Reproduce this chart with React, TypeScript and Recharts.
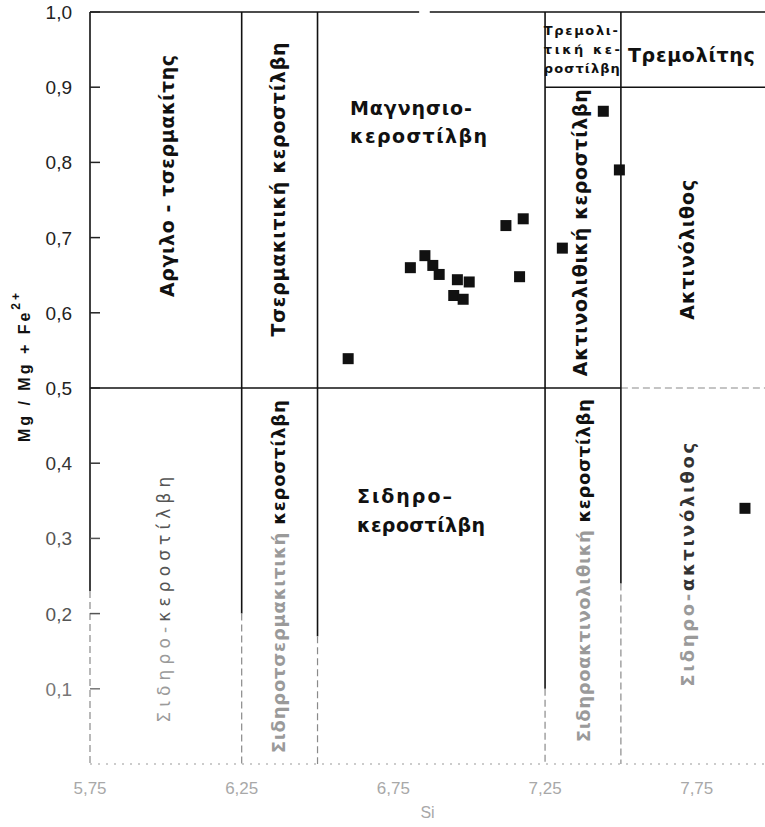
import { ScatterChart, Scatter, XAxis, YAxis, ReferenceLine, ReferenceDot } from "recharts";

// Si (apfu) and Mg/(Mg+Fe2+) of the analysed amphiboles
const siValues = [6.601, 6.806, 6.854, 6.880, 6.901, 6.961, 7.0, 6.949, 6.98, 7.121, 7.178, 7.166, 7.307, 7.442, 7.495, 7.909];
const mgValues = [0.539, 0.66, 0.676, 0.663, 0.651, 0.644, 0.641, 0.623, 0.618, 0.716, 0.725, 0.648, 0.686, 0.868, 0.79, 0.34];

const xTicks = [5.75, 6.25, 6.75, 7.25, 7.75];
const yTicks = [0.1, 0.2, 0.3, 0.4, 0.5, 0.6, 0.7, 0.8, 0.9, 1.0];

const SI_MIN = 5.75;
const SI_MAX = 7.975;

const points = siValues.map((si, i) => ({ si, mg: mgValues[i] }));

// field boundaries: [x1, y1, x2, y2, dashed]
const boundaries: [number, number, number, number, boolean][] = [
  [SI_MIN, 1, 6.835, 1, false],
  [6.87, 1, SI_MAX, 1, false],
  [SI_MIN, 0.5, 7.5, 0.5, false],
  [7.5, 0.5, SI_MAX, 0.5, true],
  [7.25, 0.9, SI_MAX, 0.9, false],
  [SI_MIN, 1, SI_MIN, 0.23, false],
  [SI_MIN, 0.23, SI_MIN, 0, true],
  [6.25, 1, 6.25, 0.2, false],
  [6.25, 0.2, 6.25, 0, true],
  [6.5, 1, 6.5, 0.17, false],
  [6.5, 0.17, 6.5, 0, true],
  [7.25, 1, 7.25, 0.1, false],
  [7.25, 0.1, 7.25, 0, true],
  [7.5, 1, 7.5, 0.24, false],
  [7.5, 0.24, 7.5, 0, true],
];

const FAINT = "#a8a8a8";
const DARK = "#111";
const FONT = "'Liberation Sans', Arial, sans-serif";
const LABEL_FONT = "'DejaVu Sans', Verdana, sans-serif";

type Seg = { text: string; fill?: string };
interface FieldLabel {
  si: number;
  mg: number;
  lines: Seg[][];
  vertical?: boolean;
  size: number;
  lengths: number[];
  gap?: number;
  weight?: string;
}

const fieldLabels: FieldLabel[] = [
  { si: 6.004, mg: 0.782, vertical: true, size: 19, lengths: [242], lines: [[{ text: "Αργιλο - τσερμακίτης" }]] },
  { si: 6.37, mg: 0.764, vertical: true, size: 19, lengths: [294], lines: [[{ text: "Τσερμακιτική κεροστίλβη" }]] },
  { si: 6.607, mg: 0.863, size: 19, gap: 28, lengths: [122, 137], lines: [[{ text: "Μαγνησιο-" }], [{ text: "κεροστίλβη" }]] },
  {
    si: 7.246, mg: 0.97, size: 13, gap: 19, lengths: [74, 76, 76],
    lines: [[{ text: "Τρεμολι-" }], [{ text: "τική κε-" }], [{ text: "ροστίλβη" }]],
  },
  { si: 7.523, mg: 0.934, size: 19, lengths: [127], lines: [[{ text: "Τρεμολίτης" }]] },
  { si: 7.365, mg: 0.7066, vertical: true, size: 19, lengths: [287], lines: [[{ text: "Ακτινολιθική κεροστίλβη" }]] },
  { si: 7.718, mg: 0.684, vertical: true, size: 19, lengths: [140], lines: [[{ text: "Ακτινόλιθος" }]] },
  {
    si: 5.994, mg: 0.2185, vertical: true, size: 17, lengths: [246], weight: "normal",
    lines: [[{ text: "Σιδηρο-", fill: "#9a9a9a" }, { text: "κεροστίλβη", fill: "#555" }]],
  },
  {
    si: 6.37, mg: 0.249, vertical: true, size: 18, lengths: [353],
    lines: [[{ text: "Σιδηροτσερμακιτική ", fill: "#9a9a9a" }, { text: "κεροστίλβη" }]],
  },
  { si: 6.63, mg: 0.347, size: 19, gap: 29, lengths: [95, 128], lines: [[{ text: "Σιδηρο–" }], [{ text: "κεροστίλβη" }]] },
  {
    si: 7.375, mg: 0.257, vertical: true, size: 18, lengths: [343],
    lines: [[{ text: "Σιδηροακτινολιθική ", fill: "#9a9a9a" }, { text: "κεροστίλβη" }]],
  },
  {
    si: 7.718, mg: 0.265, vertical: true, size: 18, lengths: [244],
    lines: [[{ text: "Σιδηρο-", fill: "#9a9a9a" }, { text: "ακτινόλιθος", fill: "#333" }]],
  },
];

function RegionText({ viewBox, item }: { viewBox?: { x: number; y: number; width: number; height: number }; item: FieldLabel }) {
  if (!viewBox) return null;
  const cx = viewBox.x + viewBox.width / 2;
  const cy = viewBox.y + viewBox.height / 2;
  return (
    <g transform={item.vertical ? `rotate(-90 ${cx} ${cy})` : undefined}>
      {item.lines.map((segs, i) => (
        <text
          key={i}
          x={cx}
          y={cy + i * (item.gap ?? 0)}
          textAnchor={item.vertical ? "middle" : "start"}
          dominantBaseline={item.vertical ? "central" : "alphabetic"}
          fontSize={item.size}
          fontWeight={item.weight ?? "bold"}
          fontFamily={LABEL_FONT}
          textLength={item.lengths[i]}
          lengthAdjust="spacing"
        >
          {segs.map((s, j) => (
            <tspan key={j} fill={s.fill ?? DARK}>
              {s.text}
            </tspan>
          ))}
        </text>
      ))}
    </g>
  );
}

function YTick({ x, y, payload }: { x?: number; y?: number; payload?: { value: number } }) {
  const v = payload?.value ?? 0;
  const col = v >= 0.5 ? "#222" : v >= 0.4 ? "#333" : v >= 0.2 ? "#555" : "#777";
  return (
    <g>
      <line x1={(x ?? 0) + 2} x2={(x ?? 0) + 12} y1={y} y2={y} stroke={col} strokeWidth={1.5} />
      <text x={(x ?? 0) - 16} y={y} dy={7} textAnchor="end" fontSize={19} fontFamily={FONT} fill={col}>
        {v.toFixed(1).replace(".", ",")}
      </text>
    </g>
  );
}

function XTick({ x, y, payload }: { x?: number; y?: number; payload?: { value: number } }) {
  return (
    <text x={x} y={(y ?? 0) + 28} textAnchor="middle" fontSize={17} fontFamily={FONT} fill={FAINT}>
      {(payload?.value ?? 0).toFixed(2).replace(".", ",")}
    </text>
  );
}

function YLabel({ viewBox }: { viewBox?: { x: number; y: number; width: number; height: number } }) {
  if (!viewBox) return null;
  const x = viewBox.x + 24;
  const y = viewBox.y + viewBox.height / 2 - 22;
  return (
    <text
      x={x}
      y={y}
      transform={`rotate(-90 ${x} ${y})`}
      textAnchor="middle"
      dominantBaseline="central"
      fontSize={16}
      fontWeight="bold"
      fontFamily={FONT}
      fill={DARK}
      letterSpacing={3}
    >
      Mg / Mg + Fe
      <tspan dy={-8} fontSize={12}>
        2+
      </tspan>
    </text>
  );
}

const square = (p: { cx?: number; cy?: number }) => (
  <rect x={(p.cx ?? 0) - 5.5} y={(p.cy ?? 0) - 5.5} width={11} height={11} fill="#111" />
);

export default function App() {
  return (
    <div style={{ position: "absolute", left: 0, top: 0, background: "#fff" }}>
      <ScatterChart width={765} height={827} margin={{ top: 12, right: 0, bottom: 3, left: 0 }}>
        <XAxis
          type="number"
          dataKey="si"
          domain={[SI_MIN, SI_MAX]}
          ticks={xTicks}
          allowDataOverflow
          height={60}
          tickSize={0}
          tickLine={false}
          axisLine={{ stroke: "#999", strokeDasharray: "2 6" }}
          tick={<XTick />}
          label={{ value: "Si", position: "insideBottom", offset: 6, fill: FAINT, fontSize: 16, fontFamily: FONT }}
        />
        <YAxis
          type="number"
          dataKey="mg"
          domain={[0, 1]}
          ticks={yTicks}
          width={90}
          tickSize={0}
          tickLine={false}
          axisLine={false}
          tick={<YTick />}
          label={<YLabel />}
        />
        {boundaries.map(([x1, y1, x2, y2, dashed], i) => (
          <ReferenceLine
            key={i}
            segment={[{ x: x1, y: y1 }, { x: x2, y: y2 }]}
            stroke={dashed ? "#8a8a8a" : DARK}
            strokeWidth={dashed ? 1.2 : 1.6}
            strokeDasharray={dashed ? "7 4" : undefined}
            ifOverflow="visible"
          />
        ))}
        {fieldLabels.map((f, i) => (
          <ReferenceDot
            key={i}
            x={f.si}
            y={f.mg}
            r={0}
            fill="none"
            stroke="none"
            ifOverflow="visible"
            label={<RegionText item={f} />}
          />
        ))}
        <Scatter data={points} shape={square} isAnimationActive={false} />
      </ScatterChart>
    </div>
  );
}
